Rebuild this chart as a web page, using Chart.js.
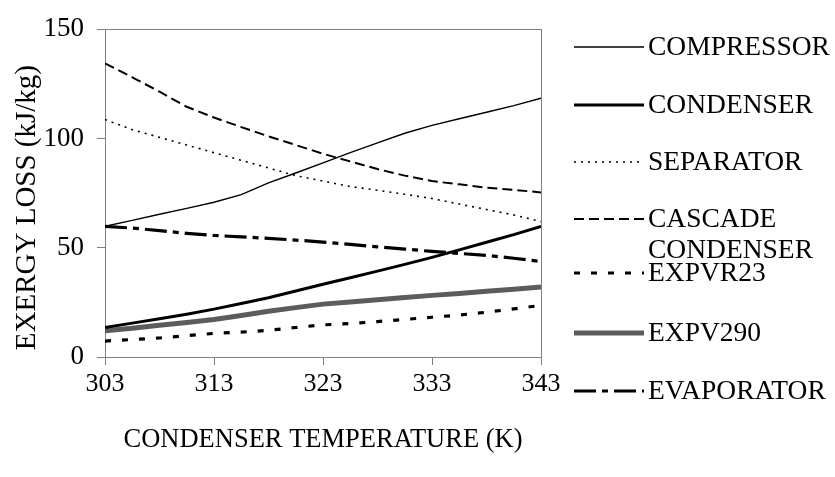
<!DOCTYPE html>
<html>
<head>
<meta charset="utf-8">
<script src="https://cdn.jsdelivr.net/npm/chart.js@4/dist/chart.umd.min.js"></script>
<style>
  html, body { margin: 0; padding: 0; background: #fff; }
  #wrap { width: 835px; height: 477px; position: relative; }
</style>
</head>
<body>
<div id="wrap"><canvas id="c" width="835" height="477"></canvas></div>
<script>
// ---- data ----
const temperatures = [303, 305.5, 308, 310.5, 313, 315.5, 318, 320.5, 323, 325.5, 328, 330.5, 333, 335.5, 338, 340.5, 343];
const xTickLabels = [303, 313, 323, 333, 343];
const yTickLabels = [0, 50, 100, 150];
const seriesNames = ["COMPRESSOR", "CONDENSER", "SEPARATOR", "CASCADE CONDENSER", "EXPVR23", "EXPV290", "EVAPORATOR"];
const compressor = [59.8, 62.5, 65.3, 68.0, 70.8, 74.3, 79.7, 84.2, 88.8, 93.5, 98.0, 102.4, 106.0, 109.0, 112.0, 115.0, 118.4];
const condenser  = [13.5, 15.5, 17.5, 19.6, 21.9, 24.5, 27.1, 30.2, 33.3, 36.3, 39.3, 42.4, 45.6, 49.0, 52.5, 56.0, 59.8];
const separator  = [108.7, 104.0, 100.5, 97.0, 93.5, 90.0, 86.5, 83.0, 80.5, 78.0, 76.3, 74.5, 72.5, 70.0, 67.5, 65.0, 62.0];
const cascade    = [134.4, 128.0, 121.4, 114.5, 109.6, 105.2, 101.0, 97.0, 93.0, 89.5, 86.0, 83.0, 80.5, 79.0, 77.5, 76.5, 75.3];
const expvr23    = [7.3, 8.0, 8.7, 9.8, 10.8, 11.4, 12.2, 13.5, 14.7, 15.3, 16.2, 17.2, 18.2, 19.2, 20.5, 22.0, 23.6];
const expv290    = [12.0, 13.2, 14.5, 15.8, 17.2, 19.0, 20.9, 22.6, 24.2, 25.2, 26.2, 27.2, 28.2, 29.1, 30.1, 31.0, 32.0];
const evaporator = [59.8, 59.0, 57.8, 56.6, 55.6, 55.0, 54.3, 53.5, 52.6, 51.5, 50.4, 49.4, 48.3, 47.4, 46.5, 45.2, 43.7];

const seriesValues = [compressor, condenser, separator, cascade, expvr23, expv290, evaporator];
const styles = [
  { color: '#000', width: 1.4, dash: [] },
  { color: '#000', width: 3, dash: [] },
  { color: '#000', width: 1.6, dash: [2, 5] },
  { color: '#000', width: 2, dash: [10, 5] },
  { color: '#000', width: 3.2, dash: [6, 11] },
  { color: '#5c5c5c', width: 5, dash: [] },
  { color: '#000', width: 3.2, dash: [22, 6, 6, 6] }
];

const FONT = "'Liberation Serif', 'Times New Roman', serif";

const datasets = seriesNames.map((name, i) => ({
  label: name,
  data: temperatures.map((t, k) => ({ x: t, y: seriesValues[i][k] })),
  borderColor: styles[i].color,
  backgroundColor: styles[i].color,
  borderWidth: styles[i].width,
  borderDash: styles[i].dash,
  borderCapStyle: 'butt',
  pointRadius: 0,
  tension: 0,
  fill: false
}));

// legend rows: line y and text lines
const legendRows = [
  { y: 47, lines: ["COMPRESSOR"] },
  { y: 105, lines: ["CONDENSER"] },
  { y: 162, lines: ["SEPARATOR"] },
  { y: 219, lines: ["CASCADE", "CONDENSER"] },
  { y: 273, lines: ["EXPVR23"] },
  { y: 333, lines: ["EXPV290"] },
  { y: 391, lines: ["EVAPORATOR"] }
];

const frameAndLegend = {
  id: 'frameAndLegend',
  beforeDatasetsDraw(chart) {
    const { ctx, chartArea: a } = chart;
    ctx.save();
    ctx.strokeStyle = '#808080';
    ctx.lineWidth = 1;
    ctx.strokeRect(Math.round(a.left) + 0.5, Math.round(a.top) + 0.5, Math.round(a.right - a.left), Math.round(a.bottom - a.top));
    ctx.restore();
  },
  afterDraw(chart) {
    const { ctx } = chart;
    ctx.save();
    legendRows.forEach((row, i) => {
      const s = styles[i];
      ctx.beginPath();
      ctx.strokeStyle = s.color;
      ctx.lineWidth = s.width;
      ctx.setLineDash(s.dash);
      ctx.lineCap = 'butt';
      ctx.moveTo(574, row.y);
      ctx.lineTo(644, row.y);
      ctx.stroke();
      ctx.setLineDash([]);
      ctx.fillStyle = '#000';
      ctx.font = "27.5px " + FONT;
      ctx.textBaseline = 'middle';
      ctx.textAlign = 'left';
      row.lines.forEach((t, j) => ctx.fillText(t, 648, row.y + 1 + j * 31));
    });
    ctx.restore();
  }
};

new Chart(document.getElementById('c'), {
  type: 'line',
  data: { datasets },
  options: {
    responsive: false,
    animation: false,
    events: [],
    layout: { padding: { top: 20, right: 294, left: 0, bottom: 0 }, autoPadding: false },
    plugins: { legend: { display: false }, tooltip: { enabled: false }, title: { display: false } },
    scales: {
      x: {
        type: 'linear',
        min: 303, max: 343,
        afterBuildTicks(scale) { scale.ticks = xTickLabels.map(v => ({ value: v })); },
        afterFit(scale) { scale.height = 120; },
        grid: { display: true, drawOnChartArea: false, drawTicks: true, tickLength: 8, color: '#808080' },
        border: { display: true, color: '#808080' },
        ticks: { color: '#000', font: { family: FONT, size: 26 }, padding: 4, maxRotation: 0 },
        title: { display: true, text: 'CONDENSER TEMPERATURE (K)', color: '#000', font: { family: FONT, size: 26.5 }, padding: { top: 0, bottom: 21 } }
      },
      y: {
        type: 'linear',
        min: 0, max: 150,
        afterBuildTicks(scale) { scale.ticks = yTickLabels.map(v => ({ value: v })); },
        afterFit(scale) { scale.width = 105; },
        grid: { display: true, drawOnChartArea: false, drawTicks: true, tickLength: 8, color: '#808080' },
        border: { display: true, color: '#808080' },
        ticks: { color: '#000', font: { family: FONT, size: 27 }, padding: 13 },
        title: { display: true, text: 'EXERGY LOSS (kJ/kg)    ', color: '#000', font: { family: FONT, size: 29 }, padding: { top: 10, bottom: 0 } }
      }
    }
  },
  plugins: [frameAndLegend]
});
</script>
</body>
</html>
